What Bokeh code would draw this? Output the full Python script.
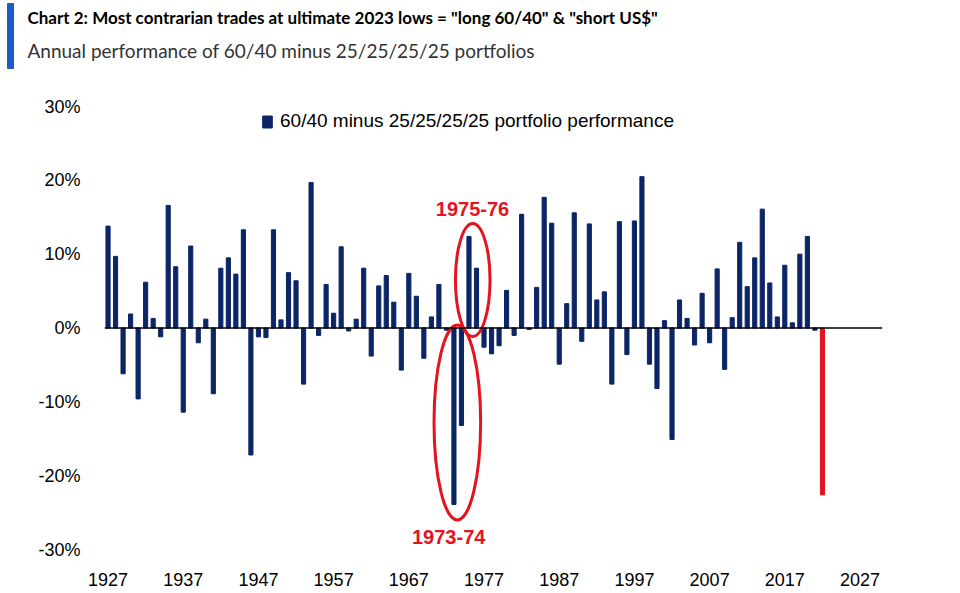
from bokeh.plotting import figure
from bokeh.layouts import column
from bokeh.models import (FixedTicker, Span, Label, Legend, LegendItem, Range1d)
from bokeh.core.properties import value
from bokeh.embed import file_html
from bokeh.resources import INLINE

# ---- data ----
years = list(range(1927, 2022))
perf = [13.8, 9.7, -6.2, 1.9, -9.6, 6.2, 1.3, -1.2, 16.6, 8.3,
        -11.4, 11.1, -2.0, 1.2, -8.9, 8.1, 9.5, 7.3, 13.3, -17.2,
        -1.2, -1.3, 13.3, 1.1, 7.5, 6.4, -7.6, 19.7, -1.0, 5.9,
        2.0, 11.0, -0.4, 1.2, 8.1, -3.8, 5.7, 7.1, 3.5, -5.7,
        7.4, 4.3, -4.1, 1.5, 5.9, -0.3, -23.9, -13.2, 12.4, 8.1,
        -2.6, -3.5, -2.4, 5.1, -1.0, 15.4, -0.2, 5.5, 17.7, 14.2,
        -4.9, 3.3, 15.6, -1.8, 14.1, 3.8, 4.9, -7.6, 14.4, -3.6,
        14.5, 20.5, -4.9, -8.2, 1.0, -15.1, 3.8, 1.3, -2.3, 4.7,
        -2.0, 8.0, -5.6, 1.4, 11.6, 5.6, 9.5, 16.1, 6.1, 1.5,
        8.5, 0.7, 10.0, 12.4, -0.3]
ytd_years = [2022]
ytd_perf = [-22.6]

x_ticks = [1927, 1937, 1947, 1957, 1967, 1977, 1987, 1997, 2007, 2017, 2027]
y_ticks = [-30, -20, -10, 0, 10, 20, 30]
y_tick_labels = ["-30%", "-20%", "-10%", "0%", "10%", "20%", "30%"]

title_text = 'Chart 2: Most contrarian trades at ultimate 2023 lows = "long 60/40" & "short US$"'
subtitle_text = "Annual performance of 60/40 minus 25/25/25/25 portfolios"
legend_text = "60/40 minus 25/25/25/25 portfolio performance"

# highlighted periods (annotation ellipses and labels)
hl_labels = ["1973-74", "1975-76"]
hl_x = [1973.45, 1975.5]
hl_y = [-12.8, 6.5]
hl_w = [6.2, 4.6]
hl_h = [26.4, 15.3]
hl_label_x = [1972.3, 1975.47]
hl_label_y = [-28.3, 16.1]

NAVY = "#0b2566"
RED = "#e4131f"
ACCENT = "#1f5bc8"

W = 950
HEAD_H = 80
MAIN_H = 508

# ---- header (title block), 1 data unit = 1 px, y downward ----
head = figure(width=W, height=HEAD_H, output_backend="svg", toolbar_location=None,
              x_range=Range1d(0, W), y_range=Range1d(HEAD_H, 0),
              x_axis_type=None, y_axis_type=None, min_border=0)
head.frame_align = False
head.outline_line_color = None
head.grid.visible = False
head.quad(left=[7], right=[13], top=[3], bottom=[68], color=ACCENT)
head.text(x=[27], y=[17], text=[title_text], text_baseline="middle",
          text_font=value("Lato"), text_font_style="bold",
          text_font_size="17px", text_color="black")
head.text(x=[27], y=[50], text=[subtitle_text], text_baseline="middle",
          text_font=value("Lato"), text_font_size="19px", text_color="#333333")

# ---- main chart ----
p = figure(width=W, height=MAIN_H, output_backend="svg", toolbar_location=None,
           x_range=Range1d(1926.53, 2029.99), y_range=Range1d(-30, 30),
           min_border_left=104, min_border_right=68, min_border_top=26, min_border_bottom=39)
p.frame_align = False
p.outline_line_color = None
p.xgrid.grid_line_color = None
p.ygrid.grid_line_color = None

blue = p.vbar(x=years, top=perf, bottom=0, width=0.55, color=NAVY)
p.vbar(x=ytd_years, top=ytd_perf, bottom=0, width=0.55, color=RED)

p.add_layout(Span(location=0, dimension="width", line_color="black", line_width=1.5))

p.ellipse(x=hl_x, y=hl_y, width=hl_w, height=hl_h, fill_color=None,
          line_color=RED, line_width=3)
for t, lx, ly in zip(hl_labels, hl_label_x, hl_label_y):
    p.add_layout(Label(x=lx, y=ly, text=t, text_align="center", text_baseline="middle",
                       text_font="Liberation Sans", text_font_size="20px",
                       text_font_style="bold", text_color=RED))

# axes
p.xaxis.ticker = FixedTicker(ticks=x_ticks)
p.xaxis.axis_line_color = None
p.xaxis.major_tick_line_color = None
p.xaxis.minor_tick_line_color = None
p.xaxis.major_label_standoff = 17
p.xaxis.major_label_text_font = "Liberation Sans"
p.xaxis.major_label_text_font_size = "18px"
p.xaxis.major_label_text_color = "black"

p.yaxis.ticker = FixedTicker(ticks=y_ticks)
p.yaxis.major_label_overrides = {t: l for t, l in zip(y_ticks, y_tick_labels)}
p.yaxis.axis_line_color = None
p.yaxis.major_tick_line_color = None
p.yaxis.minor_tick_line_color = None
p.yaxis.major_label_standoff = 18
p.yaxis.major_label_text_font = "Liberation Sans"
p.yaxis.major_label_text_font_size = "18px"
p.yaxis.major_label_text_color = "black"

# legend
legend = Legend(items=[LegendItem(label=legend_text, renderers=[blue])],
                location=(157, 417), padding=0, margin=0, border_line_color=None,
                background_fill_alpha=0, glyph_width=12, glyph_height=15,
                label_standoff=7, label_text_font="Liberation Sans",
                label_text_font_size="19px", label_text_color="black")
p.add_layout(legend)

layout = column(head, p, spacing=0)
open("out.html", "w").write(file_html(layout, INLINE))
